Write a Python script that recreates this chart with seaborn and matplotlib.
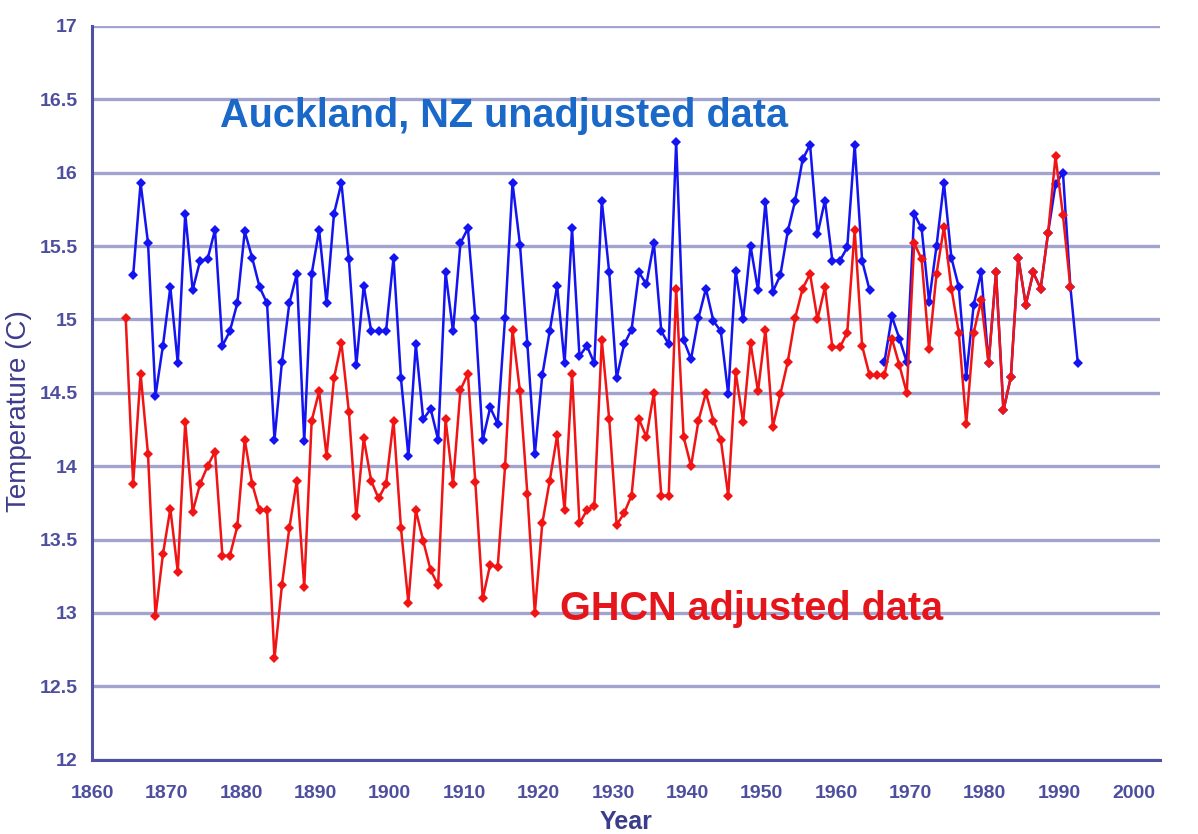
import numpy as np
import pandas as pd
import matplotlib
matplotlib.use("Agg")
import matplotlib.pyplot as plt
import seaborn as sns

# Auckland, NZ annual mean temperature (C)
raw_years = list(range(1865, 1993))
raw_temps = [
    15.3, 15.93, 15.52, 14.48, 14.82,
    15.22, 14.7, 15.72, 15.2, 15.4, 15.41, 15.61, 14.82, 14.92, 15.11,
    15.6, 15.42, 15.22, 15.11, 14.18, 14.71, 15.11, 15.31, 14.17, 15.31,
    15.61, 15.11, 15.72, 15.93, 15.41, 14.69, 15.23, 14.92, 14.92, 14.92,
    15.42, 14.6, 14.07, 14.83, 14.32, 14.39, 14.18, 15.32, 14.92, 15.52,
    15.62, 15.01, 14.18, 14.4, 14.29, 15.01, 15.93, 15.51, 14.83, 14.08,
    14.62, 14.92, 15.23, 14.7, 15.62, 14.75, 14.82, 14.7, 15.81, 15.32,
    14.6, 14.83, 14.93, 15.32, 15.24, 15.52, 14.92, 14.83, 16.21, 14.86,
    14.73, 15.01, 15.21, 14.99, 14.92, 14.49, 15.33, 15.0, 15.5, 15.2,
    15.8, 15.19, 15.3, 15.6, 15.81, 16.09, 16.19, 15.58, 15.81, 15.4,
    15.4, 15.49, 16.19, 15.4, 15.2, np.nan, 14.71, 15.02, 14.87, 14.71,
    15.72, 15.62, 15.12, 15.5, 15.93, 15.42, 15.22, 14.61, 15.1, 15.32,
    14.7, 15.32, 14.38, 14.61, 15.42, 15.1, 15.32, 15.21, 15.59, 15.92,
    16.0, 15.22, 14.7,
]

# GHCN adjusted series
adj_years = list(range(1864, 1992))
adj_temps = [
    15.01, 13.88, 14.63, 14.08, 12.98, 13.4,
    13.71, 13.28, 14.3, 13.69, 13.88, 14.0, 14.1, 13.39, 13.39, 13.59,
    14.18, 13.88, 13.7, 13.7, 12.69, 13.19, 13.58, 13.9, 13.18, 14.31,
    14.51, 14.07, 14.6, 14.84, 14.37, 13.66, 14.19, 13.9, 13.78, 13.88,
    14.31, 13.58, 13.07, 13.7, 13.49, 13.29, 13.19, 14.32, 13.88, 14.52,
    14.63, 13.89, 13.1, 13.33, 13.31, 14.0, 14.93, 14.51, 13.81, 13.0,
    13.61, 13.9, 14.21, 13.7, 14.63, 13.61, 13.7, 13.73, 14.86, 14.32,
    13.6, 13.68, 13.8, 14.32, 14.2, 14.5, 13.8, 13.8, 15.21, 14.2,
    14.0, 14.31, 14.5, 14.31, 14.18, 13.8, 14.64, 14.3, 14.84, 14.51,
    14.93, 14.27, 14.49, 14.71, 15.01, 15.21, 15.31, 15.0, 15.22, 14.81,
    14.81, 14.91, 15.61, 14.82, 14.62, 14.62, 14.62, 14.87, 14.69, 14.5,
    15.52, 15.41, 14.8, 15.31, 15.63, 15.21, 14.91, 14.29, 14.91, 15.13,
    14.7, 15.32, 14.38, 14.61, 15.42, 15.1, 15.32, 15.21, 15.59, 16.11,
    15.71, 15.22,
]

year_ticks = list(range(1860, 2001, 10))
temp_ticks = [12, 12.5, 13, 13.5, 14, 14.5, 15, 15.5, 16, 16.5, 17]
temp_labels = ["12", "12.5", "13", "13.5", "14", "14.5", "15", "15.5", "16", "16.5", "17"]

NAVY = "#3c3c8c"

# annual means are plotted at mid-year
raw = pd.DataFrame({"year": np.array(raw_years) + 0.5, "temp": raw_temps})
raw["segment"] = (raw["year"] > 1965).astype(int)  # no value for 1965
raw = raw.dropna()
adj = pd.DataFrame({"year": np.array(adj_years) + 0.5, "temp": adj_temps})
adj["segment"] = 0

sns.set_theme(style="white")
plt.rcParams["font.family"] = ["Liberation Sans", "DejaVu Sans"]

fig = plt.figure(figsize=(11.98, 8.34), dpi=100)
ax = fig.add_axes([0.077, 0.089, 0.891, 0.880])

# unadjusted series
sns.lineplot(data=raw, x="year", y="temp", units="segment", estimator=None,
             color="#1414f0", linewidth=1.8, marker="D", markersize=5.5,
             markeredgewidth=0, ax=ax)
# adjusted series drawn on top
sns.lineplot(data=adj, x="year", y="temp", units="segment", estimator=None,
             color="#f01414", linewidth=1.8, marker="D", markersize=5.5,
             markeredgewidth=0, ax=ax)

ax.set_xlim(1860, 2003.5)
ax.set_ylim(12, 17)
ax.set_xticks(year_ticks)
ax.set_xticklabels([str(y) for y in year_ticks])
ax.set_yticks(temp_ticks)
ax.set_yticklabels(temp_labels)

ax.yaxis.grid(True, color="#a3a3cf", linewidth=2.4)
ax.xaxis.grid(False)
ax.set_axisbelow(True)
for side in ["top", "right"]:
    ax.spines[side].set_visible(False)
for side in ["left", "bottom"]:
    ax.spines[side].set_color("#5050a0")
    ax.spines[side].set_linewidth(2.2)
ax.tick_params(axis="both", direction="inout", length=9, width=1.6,
               color="#4a4a98", labelcolor="#4e4e9e", labelsize=14)
ax.tick_params(axis="x", pad=14)
ax.tick_params(axis="y", pad=6)
plt.setp(ax.get_xticklabels() + ax.get_yticklabels(), fontweight="bold")

ax.set_xlabel("Year", fontsize=18, color=NAVY, fontweight="bold")
ax.xaxis.set_label_coords(0.5, -0.085)
ax.xaxis.label.set_va("center")
ax.set_ylabel("Temperature (C)", fontsize=20, color=NAVY)
ax.yaxis.set_label_coords(-0.069, 0.475)
ax.yaxis.label.set_va("center")

ax.text(1877.2, 16.312, "Auckland, NZ unadjusted data", color="#1a68c8",
        fontsize=28.5, fontweight="bold", ha="left", va="baseline")
ax.text(1922.9, 12.95, "GHCN adjusted data", color="#e5161b",
        fontsize=28.5, fontweight="bold", ha="left", va="baseline")

fig.savefig("out.png", dpi=100)
